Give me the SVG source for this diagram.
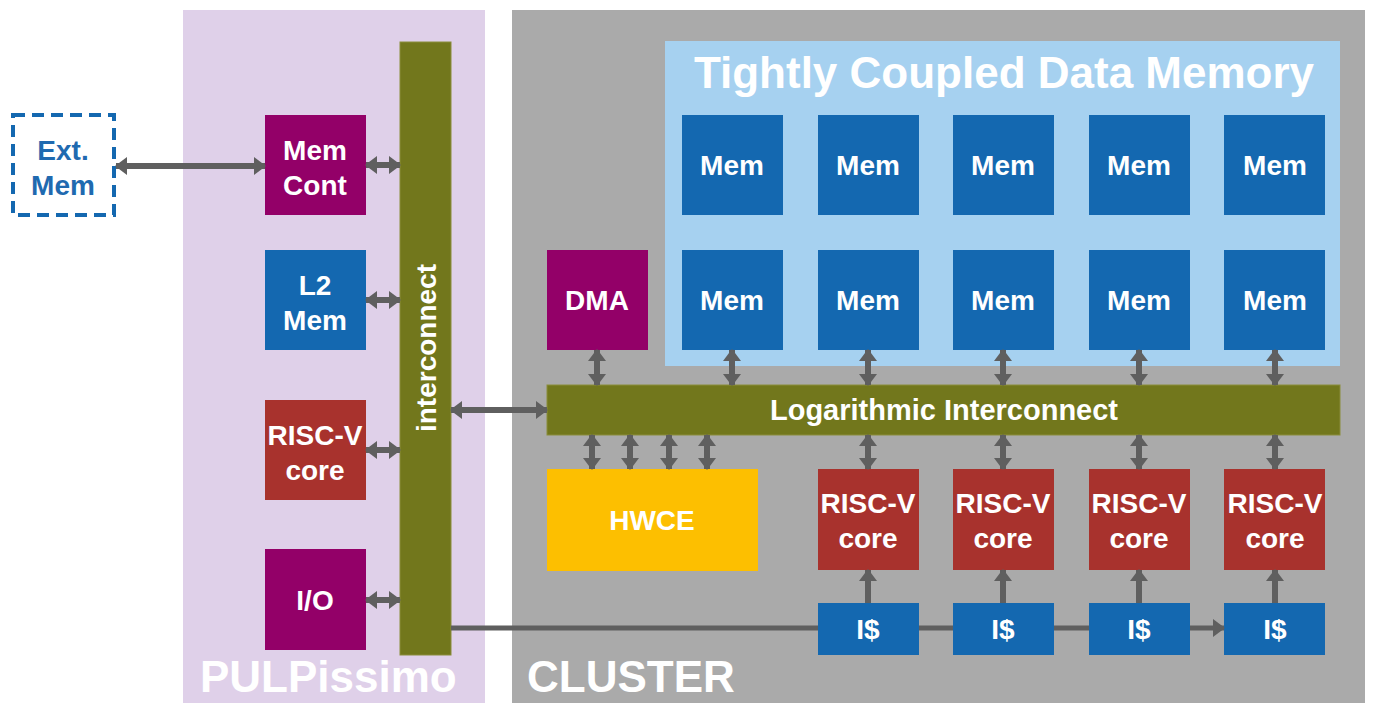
<svg xmlns="http://www.w3.org/2000/svg" width="1379" height="710" viewBox="0 0 1379 710">
<style>
.lbl{font-family:"Liberation Sans",Arial,sans-serif;font-weight:bold;font-size:28px;fill:#fff;text-anchor:middle}
.big{font-family:"Liberation Sans",Arial,sans-serif;font-weight:bold;font-size:44px;fill:#fff}
.purple{fill:#930068}
.blue{fill:#1468b0}
.red{fill:#a8322d}
.olive{fill:#72771c;stroke:#8a8d3a;stroke-width:1}
.arr{stroke:#5f5f5f;stroke-width:6;fill:none;marker-start:url(#ah);marker-end:url(#ah)}
.one{stroke:#5f5f5f;stroke-width:6;fill:none;marker-end:url(#ah)}
.ln{stroke:#5f5f5f;stroke-width:5;fill:none}
</style>
<defs>
<marker id="ah" viewBox="0 0 12 18" refX="11" refY="9" markerWidth="12" markerHeight="18" markerUnits="userSpaceOnUse" orient="auto-start-reverse">
<path d="M0,0 L12,9 L0,18 Z" fill="#5f5f5f"/>
</marker>
</defs>
<rect width="1379" height="710" fill="#fff"/>
<g id="pulpissimo">
<rect x="183" y="10" width="302" height="693" fill="#dfd0e9"/>
<text class="big" x="200" y="692">PULPissimo</text>
</g>
<g id="cluster">
<rect x="512" y="10" width="853" height="693" fill="#aaaaaa"/>
<text class="big" x="527" y="692">CLUSTER</text>
</g>
<g id="tcdm">
<rect x="665" y="41" width="675" height="325" fill="#a6d1f0"/>
<text class="big" x="1004" y="88" text-anchor="middle">Tightly Coupled Data Memory</text>
</g>
<g id="extmem">
<rect x="13" y="115" width="101" height="100" fill="none" stroke="#1468b0" stroke-width="4" stroke-dasharray="12,7"/>
<text class="lbl" x="63" y="160" style="fill:#1f6ab0">Ext.</text>
<text class="lbl" x="63" y="195" style="fill:#1f6ab0">Mem</text>
</g>
<g id="memcont"><rect class="purple" x="265" y="115" width="101" height="100"/><text class="lbl" x="315" y="160">Mem</text><text class="lbl" x="315" y="195">Cont</text></g>
<g id="l2mem"><rect class="blue" x="265" y="250" width="101" height="100"/><text class="lbl" x="315" y="295">L2</text><text class="lbl" x="315" y="330">Mem</text></g>
<g id="riscv0"><rect class="red" x="265" y="400" width="101" height="100"/><text class="lbl" x="315" y="445">RISC-V</text><text class="lbl" x="315" y="480">core</text></g>
<g id="io"><rect class="purple" x="265" y="549" width="101" height="101"/><text class="lbl" x="315" y="610">I/O</text></g>
<g id="interconnect"><rect class="olive" x="400" y="42" width="51" height="613"/><text class="lbl" transform="translate(436,348) rotate(-90)">interconnect</text></g>
<g id="dma"><rect class="purple" x="547" y="250" width="101" height="100"/><text class="lbl" x="597" y="310">DMA</text></g>
<g id="mems">
<rect class="blue" x="682" y="115" width="101" height="100"/><text class="lbl" x="732" y="175">Mem</text>
<rect class="blue" x="818" y="115" width="101" height="100"/><text class="lbl" x="868" y="175">Mem</text>
<rect class="blue" x="953" y="115" width="101" height="100"/><text class="lbl" x="1003" y="175">Mem</text>
<rect class="blue" x="1089" y="115" width="101" height="100"/><text class="lbl" x="1139" y="175">Mem</text>
<rect class="blue" x="1224" y="115" width="101" height="100"/><text class="lbl" x="1275" y="175">Mem</text>
<rect class="blue" x="682" y="250" width="101" height="100"/><text class="lbl" x="732" y="310">Mem</text>
<rect class="blue" x="818" y="250" width="101" height="100"/><text class="lbl" x="868" y="310">Mem</text>
<rect class="blue" x="953" y="250" width="101" height="100"/><text class="lbl" x="1003" y="310">Mem</text>
<rect class="blue" x="1089" y="250" width="101" height="100"/><text class="lbl" x="1139" y="310">Mem</text>
<rect class="blue" x="1224" y="250" width="101" height="100"/><text class="lbl" x="1275" y="310">Mem</text>
</g>
<g id="logint"><rect class="olive" x="547" y="385" width="793" height="50"/><text class="lbl" x="944" y="420" style="font-size:29px">Logarithmic Interconnect</text></g>
<g id="hwce"><rect x="547" y="469" width="211" height="102" fill="#fdbf00"/><text class="lbl" x="652" y="530">HWCE</text></g>
<g id="cores">
<rect class="red" x="818" y="469" width="101" height="101"/><text class="lbl" x="868" y="513">RISC-V</text><text class="lbl" x="868" y="548">core</text>
<rect class="red" x="953" y="469" width="101" height="101"/><text class="lbl" x="1003" y="513">RISC-V</text><text class="lbl" x="1003" y="548">core</text>
<rect class="red" x="1089" y="469" width="101" height="101"/><text class="lbl" x="1139" y="513">RISC-V</text><text class="lbl" x="1139" y="548">core</text>
<rect class="red" x="1224" y="469" width="101" height="101"/><text class="lbl" x="1275" y="513">RISC-V</text><text class="lbl" x="1275" y="548">core</text>
</g>
<g id="icaches">
<rect class="blue" x="818" y="603" width="101" height="52"/><text class="lbl" x="868" y="639">I$</text>
<rect class="blue" x="953" y="603" width="101" height="52"/><text class="lbl" x="1003" y="639">I$</text>
<rect class="blue" x="1089" y="603" width="101" height="52"/><text class="lbl" x="1139" y="639">I$</text>
<rect class="blue" x="1224" y="603" width="101" height="52"/><text class="lbl" x="1275" y="639">I$</text>
</g>
<g id="connectors">
<path class="arr" d="M116,166 H265"/>
<path class="arr" d="M366,165 H400"/>
<path class="arr" d="M366,300 H400"/>
<path class="arr" d="M366,450 H400"/>
<path class="arr" d="M366,600 H400"/>
<path class="arr" d="M451,410 H547"/>
<path class="arr" d="M597,350 V385"/>
<path class="arr" d="M732,350 V385"/>
<path class="arr" d="M868,350 V385"/>
<path class="arr" d="M1003,350 V385"/>
<path class="arr" d="M1139,350 V385"/>
<path class="arr" d="M1275,350 V385"/>
<path class="arr" d="M592,435 V469"/>
<path class="arr" d="M630,435 V469"/>
<path class="arr" d="M669,435 V469"/>
<path class="arr" d="M707,435 V469"/>
<path class="arr" d="M868,435 V469"/>
<path class="arr" d="M1003,435 V469"/>
<path class="arr" d="M1139,435 V469"/>
<path class="arr" d="M1275,435 V469"/>
<path class="one" d="M868,603 V570"/>
<path class="one" d="M1003,603 V570"/>
<path class="one" d="M1139,603 V570"/>
<path class="one" d="M1275,603 V570"/>
<path class="ln" d="M451,628 H818"/>
<path class="ln" d="M919,628 H953"/>
<path class="ln" d="M1054,628 H1089"/>
<path class="one" d="M1190,628 H1224" style="stroke-width:5"/>
</g>
</svg>
